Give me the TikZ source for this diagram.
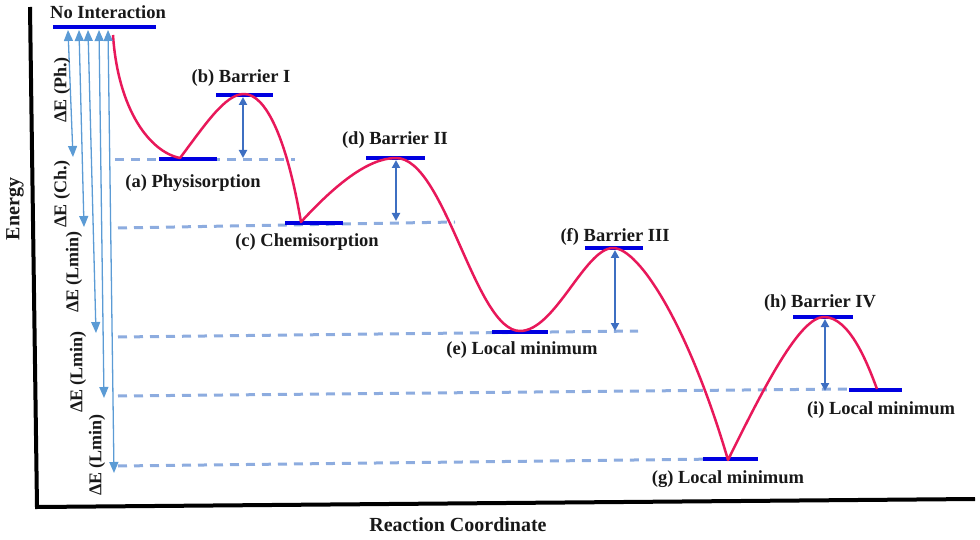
\documentclass[tikz,border=0pt]{standalone}
\usepackage{fontspec}
\setmainfont{Liberation Serif}
\usetikzlibrary{arrows.meta}
\definecolor{curvered}{HTML}{E8185A}
\definecolor{levelblue}{HTML}{0000E0}
\definecolor{dashblue}{HTML}{8DACDF}
\definecolor{arrowblue}{HTML}{5B9BD5}
\definecolor{gapblue}{HTML}{3E6FC2}
\begin{document}
\begin{tikzpicture}[x=1pt,y=-1pt,
  lbl/.style={font=\fontsize{18.5}{20}\selectfont\bfseries, inner sep=0pt, text=black!90},
  vlbl/.style={font=\fontsize{18}{20}\selectfont\bfseries, rotate=90, inner sep=0pt, text=black!90},
  axlbl/.style={font=\fontsize{20}{22}\selectfont\bfseries, inner sep=0pt, text=black!90},
  level/.style={levelblue, line width=4pt},
  guide/.style={dashblue, line width=3pt, dash pattern=on 9pt off 7pt},
  dearrow/.style={arrowblue, line width=1.3pt, {Triangle[length=11pt,width=9pt]}-{Triangle[length=11pt,width=9pt]}},
  gaparrow/.style={gapblue, line width=2.4pt, {Triangle[length=8pt,width=8pt]}-{Triangle[length=8pt,width=8pt]}},
  pes/.style={curvered, line width=2.5pt, line join=round},
  axisline/.style={black, line width=4pt}]
\useasboundingbox (0,0) rectangle (980,540);

% axes
\coordinate (ytop) at (30,7);
\coordinate (origin) at (37,507);
\coordinate (xend) at (975,499);
\draw[axisline] (ytop) -- (origin) -- (xend);
\node[axlbl, rotate=90] (energy) at (15,209) {Energy};
\node[axlbl] (rc) at (458,525) {Reaction Coordinate};

% dashed guide lines
\coordinate (da1) at (115,160); \coordinate (da2) at (295,160);
\coordinate (dc1) at (118,228); \coordinate (dc2) at (455,222);
\coordinate (de1) at (118,337); \coordinate (de2) at (638,331);
\coordinate (di1) at (118,396); \coordinate (di2) at (848,389);
\coordinate (dg1) at (118,466); \coordinate (dg2) at (720,459);
\draw[guide] (da1) -- (da2);
\draw[guide] (dc1) -- (dc2);
\draw[guide] (de1) -- (de2);
\draw[guide] (di1) -- (di2);
\draw[guide] (dg1) -- (dg2);

% level bars
\coordinate (n1) at (53,27);  \coordinate (n2) at (156,27);
\coordinate (a1) at (159,159); \coordinate (a2) at (217,159);
\coordinate (b1) at (216,95);  \coordinate (b2) at (273,95);
\coordinate (c1) at (285,223); \coordinate (c2) at (343,223);
\coordinate (d1) at (366,158); \coordinate (d2) at (425,158);
\coordinate (e1) at (492,332); \coordinate (e2) at (548,332);
\coordinate (f1) at (585,248); \coordinate (f2) at (643,248);
\coordinate (g1) at (703,459); \coordinate (g2) at (758,459);
\coordinate (h1) at (793,317); \coordinate (h2) at (853,317);
\coordinate (i1) at (849,390); \coordinate (i2) at (902,390);
\foreach \p in {n,a,b,c,d,e,f,g,h,i} \draw[level] (\p1) -- (\p2);

% potential energy curve
\coordinate (p0) at (113,35);
\coordinate (pa) at (180,158);
\coordinate (pb) at (244,94);
\coordinate (pc) at (301,222);
\coordinate (pd) at (396,158);
\coordinate (pe) at (520,331);
\coordinate (pf) at (613,248);
\coordinate (pg) at (728,460);
\coordinate (ph) at (824,317);
\coordinate (pi) at (877,389);
\draw[pes] (p0) .. controls (118,110) and (150,152) .. (pa)
  .. controls (205,125) and (225,94) .. (pb)
  .. controls (265,94) and (286,135) .. (pc)
  .. controls (335,185) and (368,158) .. (pd)
  .. controls (445,158) and (475,331) .. (pe)
  .. controls (555,331) and (585,248) .. (pf)
  .. controls (640,248) and (690,330) .. (pg)
  .. controls (765,385) and (800,317) .. (ph)
  .. controls (850,317) and (868,365) .. (pi);

% energy difference arrows from no interaction
\coordinate (u1) at (68,30);  \coordinate (v1) at (73,157);
\coordinate (u2) at (79,30);  \coordinate (v2) at (84,227);
\coordinate (u3) at (88,30);  \coordinate (v3) at (96,333);
\coordinate (u4) at (99,30);  \coordinate (v4) at (104,398);
\coordinate (u5) at (108,30); \coordinate (v5) at (114,473);
\foreach \k in {1,...,5} \draw[dearrow] (u\k) -- (v\k);

% barrier arrows
\coordinate (bt) at (243,97);  \coordinate (bb) at (243,158);
\coordinate (dt) at (396,160); \coordinate (db) at (396,221);
\coordinate (ft) at (615,250); \coordinate (fb) at (615,331);
\coordinate (ht) at (825,319); \coordinate (hb) at (825,391);
\draw[gaparrow] (bt) -- (bb);
\draw[gaparrow] (dt) -- (db);
\draw[gaparrow] (ft) -- (fb);
\draw[gaparrow] (ht) -- (hb);

% labels
\node[lbl] (lno) at (108,12) {No Interaction};
\node[lbl] (lb) at (241,78) {(b) Barrier I};
\node[lbl] (la) at (193,183) {(a) Physisorption};
\node[lbl] (lc) at (307,242) {(c) Chemisorption};
\node[lbl] (ld) at (395,140) {(d) Barrier II};
\node[lbl] (le) at (522,350) {(e) Local minimum};
\node[lbl] (lf) at (615,237) {(f) Barrier III};
\node[lbl] (lg) at (728,479) {(g) Local minimum};
\node[lbl] (lh) at (820,303) {(h) Barrier IV};
\node[lbl] (li) at (881,410) {(i) Local minimum};

\node[vlbl] (vph) at (62,90) {ΔE (Ph.)};
\node[vlbl] (vch) at (62,194) {ΔE (Ch.)};
\node[vlbl] (vl1) at (74,272) {ΔE (Lmin)};
\node[vlbl] (vl2) at (78,372) {ΔE (Lmin)};
\node[vlbl] (vl3) at (97,455) {ΔE (Lmin)};
\end{tikzpicture}
\end{document}
